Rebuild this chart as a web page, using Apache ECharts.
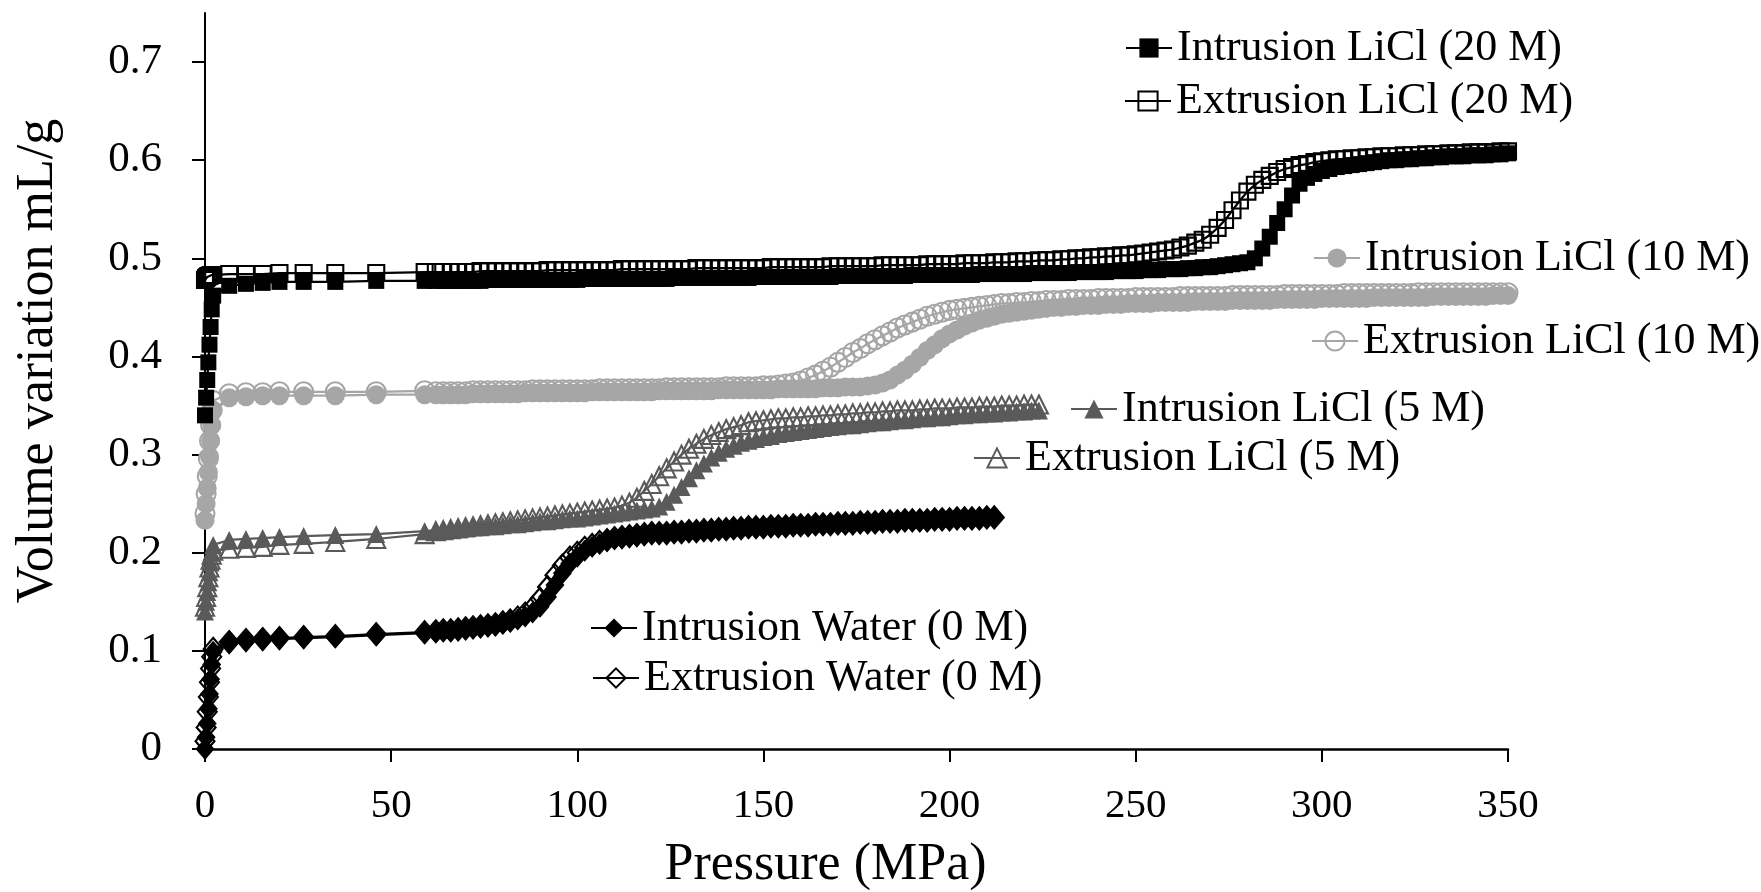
<!DOCTYPE html>
<html><head><meta charset="utf-8">
<script src="https://cdn.jsdelivr.net/npm/echarts@6/dist/echarts.min.js"></script>
<style>html,body{margin:0;padding:0;background:#fff}#c{width:1761px;height:892px}</style>
</head><body><div id="c"></div>
<script>
// ---------- DATA ----------
const xTickValues = [0, 50, 100, 150, 200, 250, 300, 350];
const yTickValues = [0, 0.1, 0.2, 0.3, 0.4, 0.5, 0.6, 0.7];
const xAxisTitle = 'Pressure (MPa)';
const yAxisTitle = 'Volume variation mL/g';

const pressureWater = [0,0.3,0.6,0.9,1.2,1.5,1.8,2.2,6.5,11,15.5,20,26.5,35,46,59,
62,64,66,68,70,72,74,76,78,80,82,84,86,88,90,92,94,96,98,100,102,104,106,108,110,112,114,116,118,120,
122,124,126,128,130,132,134,136,138,140,142,144,146,148,150,152,154,156,158,160,162,164,166,168,170,172,174,176,178,180,
182,184,186,188,190,192,194,196,198,200,202,204,206,208,210,212];
const waterIntrusion = [0,.012,.026,.041,.056,.071,.086,.099,.108,.110,.111,.112,.113,.114,.116,.118,
.119,.120,.120,.121,.122,.123,.124,.125,.126,.128,.130,.132,.135,.139,.145,.155,.167,.179,.189,.196,
.202,.206,.209,.212,.214,.215,.216,.217,.218,.219,.220,.220,.221,.221,.222,.222,.223,.223,.224,.224,
.225,.225,.226,.226,.226,.227,.227,.227,.228,.228,.228,.229,.229,.229,.230,.230,.230,.231,.231,.231,
.232,.232,.232,.233,.233,.233,.233,.234,.234,.234,.235,.235,.235,.235,.236,.236];
const waterExtrusion = [.008,.022,.038,.053,.068,.082,.094,.102,.109,.111,.112,.113,.114,.115,.117,.119,
.120,.121,.121,.122,.123,.124,.125,.126,.127,.129,.131,.134,.138,.144,.153,.165,.177,.187,.195,.200,
.205,.208,.211,.213,.215,.216,.217,.218,.219,.220,.220,.220,.221,.221,.222,.222,.223,.223,.224,.224,
.225,.225,.226,.226,.226,.227,.227,.227,.228,.228,.228,.229,.229,.229,.230,.230,.230,.231,.231,.231,
.232,.232,.232,.233,.233,.233,.233,.234,.234,.234,.235,.235,.235,.235,.236,.236];

const pressure5M = [0,0.3,0.6,0.9,1.2,1.5,1.8,2.2,6.5,11,15.5,20,26.5,35,46,59,
62,64,66,68,70,72,74,76,78,80,82,84,86,88,90,92,94,96,98,100,102,104,106,108,110,112,114,116,118,120,
122,124,126,128,130,132,134,136,138,140,142,144,146,148,150,152,154,156,158,160,162,164,166,168,170,172,174,176,178,180,
182,184,186,188,190,192,194,196,198,200,202,204,206,208,210,212,214,216,218,220,222,224];
const intrusion5M = [.140,.150,.160,.170,.180,.190,.200,.208,.213,.214,.215,.216,.217,.218,.219,.222,
.223,.223,.224,.224,.225,.226,.226,.227,.227,.228,.229,.229,.230,.231,.232,.232,.233,.234,.235,.235,
.236,.237,.238,.239,.240,.241,.242,.243,.244,.245,.247,.252,.259,.267,.276,.284,.291,.297,.302,.306,
.309,.312,.314,.316,.318,.319,.321,.322,.323,.324,.325,.326,.327,.328,.329,.330,.330,.331,.332,.333,
.333,.334,.335,.335,.336,.337,.337,.338,.338,.339,.340,.340,.341,.341,.342,.342,.343,.343,.344,.344,.345,.345];
const extrusion5M = [.145,.155,.165,.175,.185,.193,.198,.202,.204,.205,.206,.208,.209,.211,.214,.219,
.222,.223,.224,.225,.226,.227,.228,.229,.230,.231,.232,.233,.234,.235,.236,.237,.238,.239,.240,.241,
.242,.243,.244,.245,.246,.248,.251,.256,.263,.270,.278,.286,.293,.300,.306,.311,.316,.320,.323,.326,
.328,.330,.333,.334,.335,.336,.337,.337,.338,.338,.339,.339,.340,.340,.341,.341,.342,.342,.343,.343,
.344,.344,.345,.345,.345,.346,.346,.347,.347,.347,.348,.348,.348,.349,.349,.349,.350,.350,.350,.351,.351,.351];

const pressureHigh = [0,0.3,0.6,0.9,1.2,1.5,1.8,2.2,6.5,11,15.5,20,26.5,35,46,59,
62,64,66,68,70,72,74,76,78,80,82,84,86,88,90,92,94,96,98,100,102,104,106,108,110,112,114,116,118,120,
122,124,126,128,130,132,134,136,138,140,142,144,146,148,150,152,154,156,158,160,162,164,166,168,170,172,174,176,178,180,
182,184,186,188,190,192,194,196,198,200,202,204,206,208,210,212,214,216,218,220,222,224,226,228,230,232,234,236,238,240,
242,244,246,248,250,252,254,256,258,260,262,264,266,268,270,272,274,276,278,280,282,284,286,288,290,292,294,296,298,300,
302,304,306,308,310,312,314,316,318,320,322,324,326,328,330,332,334,336,338,340,342,344,346,348,350];
const intrusion10M = [.233,.250,.266,.282,.298,.314,.330,.345,.358,.359,.360,.360,.360,.360,.361,.361,
.361,.361,.361,.361,.361,.362,.362,.362,.362,.362,.362,.362,.363,.363,.363,.363,.363,.363,.363,.363,
.363,.364,.364,.364,.364,.364,.364,.364,.364,.364,.365,.365,.365,.365,.365,.365,.365,.365,.366,.366,
.366,.366,.366,.366,.366,.366,.367,.367,.367,.367,.367,.367,.368,.368,.368,.369,.369,.369,.370,.371,
.373,.376,.381,.386,.392,.399,.406,.412,.418,.423,.427,.431,.434,.437,.439,.441,.443,.444,.445,.446,
.447,.448,.449,.450,.450,.451,.451,.452,.452,.452,.453,.453,.453,.454,.454,.454,.454,.455,.455,.455,
.455,.455,.456,.456,.456,.456,.456,.457,.457,.457,.457,.457,.457,.458,.458,.458,.458,.458,.458,.459,
.459,.459,.459,.459,.459,.459,.460,.460,.460,.460,.460,.460,.460,.460,.461,.461,.461,.461,.461,.461,
.461,.461,.462,.462,.462];
const extrusion10M = [.240,.260,.278,.296,.314,.330,.345,.355,.362,.363,.363,.364,.364,.364,.364,.365,
.364,.364,.364,.364,.364,.365,.365,.365,.365,.365,.365,.365,.365,.366,.366,.366,.366,.366,.366,.366,
.366,.366,.367,.367,.367,.367,.367,.367,.367,.367,.367,.368,.368,.368,.368,.368,.368,.368,.368,.369,
.369,.369,.369,.369,.370,.370,.371,.372,.373,.375,.378,.381,.385,.389,.394,.399,.404,.408,.413,.417,
.421,.425,.429,.432,.435,.438,.441,.443,.445,.447,.448,.449,.450,.451,.452,.453,.454,.454,.455,.455,
.456,.456,.457,.457,.457,.458,.458,.458,.458,.459,.459,.459,.459,.459,.460,.460,.460,.460,.460,.460,
.461,.461,.461,.461,.461,.461,.461,.462,.462,.462,.462,.462,.462,.462,.463,.463,.463,.463,.463,.463,
.463,.463,.464,.464,.464,.464,.464,.464,.464,.464,.464,.464,.465,.465,.465,.465,.465,.465,.465,.465,
.465,.465,.465,.465,.465];
const intrusion20M = [.340,.358,.376,.394,.412,.430,.448,.462,.472,.474,.475,.476,.476,.476,.477,.477,
.477,.477,.477,.477,.477,.477,.477,.478,.478,.478,.478,.478,.478,.478,.478,.478,.478,.478,.478,.478,
.479,.479,.479,.479,.479,.479,.479,.479,.479,.479,.479,.479,.480,.480,.480,.480,.480,.480,.480,.480,
.480,.480,.480,.481,.481,.481,.481,.481,.481,.481,.481,.481,.481,.481,.482,.482,.482,.482,.482,.482,
.482,.482,.482,.482,.483,.483,.483,.483,.483,.483,.483,.483,.483,.484,.484,.484,.484,.484,.484,.484,
.485,.485,.485,.485,.485,.485,.486,.486,.486,.486,.486,.487,.487,.487,.487,.488,.488,.488,.489,.489,
.489,.490,.490,.491,.491,.492,.493,.494,.495,.496,.500,.510,.522,.536,.550,.564,.576,.582,.586,.589,
.591,.593,.594,.595,.596,.597,.598,.599,.600,.600,.601,.601,.602,.602,.603,.603,.604,.604,.604,.605,
.605,.605,.606,.606,.607];
const extrusion20M = [.478,.480,.481,.482,.482,.483,.483,.483,.484,.484,.484,.485,.485,.485,.485,.486,
.486,.486,.486,.486,.486,.486,.487,.487,.487,.487,.487,.487,.487,.487,.487,.488,.488,.488,.488,.488,
.488,.488,.488,.488,.488,.489,.489,.489,.489,.489,.489,.489,.489,.489,.489,.490,.490,.490,.490,.490,
.490,.490,.490,.490,.490,.491,.491,.491,.491,.491,.491,.491,.491,.492,.492,.492,.492,.492,.492,.492,
.493,.493,.493,.493,.493,.493,.494,.494,.494,.494,.494,.495,.495,.495,.495,.496,.496,.496,.497,.497,
.497,.498,.498,.498,.499,.499,.500,.500,.501,.501,.502,.502,.503,.503,.504,.505,.506,.507,.508,.509,
.511,.513,.516,.519,.524,.531,.539,.549,.559,.568,.575,.580,.584,.588,.591,.593,.595,.596,.598,.599,
.600,.601,.601,.602,.602,.603,.603,.604,.604,.604,.605,.605,.605,.606,.606,.606,.607,.607,.607,.608,
.608,.608,.608,.609,.609];

const seriesNames = {
  wi: 'Intrusion Water (0 M)', we: 'Extrusion Water (0 M)',
  i5: 'Intrusion LiCl (5 M)', e5: 'Extrusion LiCl (5 M)',
  i10: 'Intrusion LiCl (10 M)', e10: 'Extrusion LiCl (10 M)',
  i20: 'Intrusion LiCl (20 M)', e20: 'Extrusion LiCl (20 M)'
};

// ---------- CHART ----------
const FONT = "'Liberation Serif', 'Times New Roman', serif";
const C20 = '#000000', C10 = '#a6a6a6', C5 = '#5a5a5a', CW = '#000000';

function pairs(p, v) { return p.map((x, i) => [x, v[i]]); }
function mk(name, p, v, symbol, size, color, hollow) {
  return {
    name, type: 'line', data: pairs(p, v), symbol, symbolSize: size,
    showSymbol: true, showAllSymbol: true, clip: false,
    lineStyle: { color, width: 2.25 },
    itemStyle: hollow ? { color: 'rgba(255,255,255,0)', borderColor: color, borderWidth: 2.1 }
                      : { color, borderColor: color, borderWidth: 0 },
    emphasis: { disabled: true }, animation: false
  };
}

const series = [
  mk(seriesNames.we, pressureWater, waterExtrusion, 'diamond', [19, 22], CW, true),
  mk(seriesNames.wi, pressureWater, waterIntrusion, 'diamond', [19, 22], CW, false),
  mk(seriesNames.e5, pressure5M, extrusion5M, 'triangle', 18, C5, true),
  mk(seriesNames.i5, pressure5M, intrusion5M, 'triangle', 18, C5, false),
  mk(seriesNames.e10, pressureHigh, extrusion10M, 'circle', 19, C10, true),
  mk(seriesNames.i10, pressureHigh, intrusion10M, 'circle', 19, C10, false),
  mk(seriesNames.e20, pressureHigh, extrusion20M, 'rect', 16, C20, true),
  mk(seriesNames.i20, pressureHigh, intrusion20M, 'rect', 16, C20, false)
];

function lg(name, left, centerY) {
  return {
    data: [name], left, top: centerY - 22, padding: 0, orient: 'vertical',
    itemWidth: 46, itemHeight: 24, selectedMode: false,
    textStyle: { fontFamily: FONT, fontSize: 44, color: '#000', lineHeight: 44 }
  };
}

const legends = [
  lg(seriesNames.i20, 1125, 48),
  lg(seriesNames.e20, 1124, 101),
  lg(seriesNames.i10, 1313, 258),
  lg(seriesNames.e10, 1311, 341),
  lg(seriesNames.i5, 1070, 409),
  lg(seriesNames.e5, 973, 458),
  lg(seriesNames.wi, 590, 628),
  lg(seriesNames.we, 592, 678)
];

const chart = echarts.init(document.getElementById('c'), null, { renderer: 'canvas' });
chart.setOption({
  backgroundColor: '#ffffff',
  animation: false,
  grid: { left: 205, right: 253, top: 13, bottom: 143, containLabel: false, outerBoundsMode: 'none' },
  legend: legends,
  xAxis: {
    type: 'value', min: 0, max: 350, interval: 50,
    name: xAxisTitle, nameLocation: 'middle', nameGap: 90, nameMoveOverlap: false,
    nameTextStyle: { fontFamily: FONT, fontSize: 52, color: '#000', padding: [0, 62, 0, 0] },
    axisLine: { show: true, onZero: false, lineStyle: { color: '#000', width: 2.5 } },
    axisTick: { show: true, inside: false, length: 13, lineStyle: { color: '#000', width: 2 }, customValues: xTickValues },
    axisLabel: { fontFamily: FONT, fontSize: 41, color: '#000', margin: 37, customValues: xTickValues },
    splitLine: { show: false }
  },
  yAxis: {
    type: 'value', min: 0, max: 0.75, interval: 0.1,
    name: yAxisTitle, nameLocation: 'middle', nameGap: 141, nameRotate: 90, nameMoveOverlap: false,
    nameTextStyle: { fontFamily: FONT, fontSize: 52, color: '#000', padding: [0, 0, 0, 40] },
    axisLine: { show: true, onZero: false, lineStyle: { color: '#000', width: 2 } },
    axisTick: { show: true, inside: false, length: 13, lineStyle: { color: '#000', width: 2 }, customValues: yTickValues },
    axisLabel: { fontFamily: FONT, fontSize: 43, color: '#000', margin: 43, customValues: yTickValues },
    splitLine: { show: false }
  },
  series
});
</script>
</body></html>
